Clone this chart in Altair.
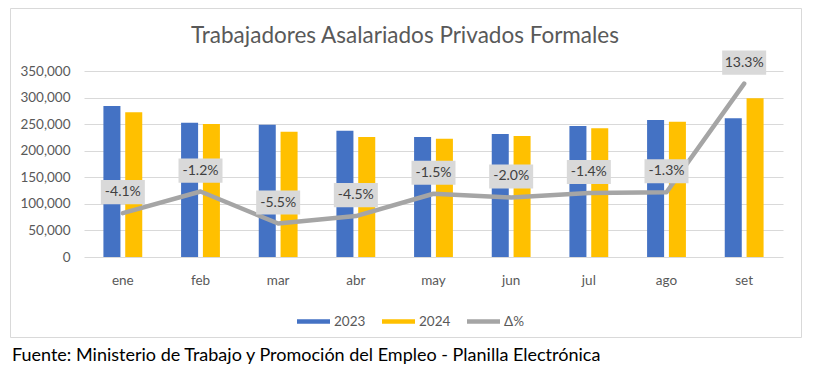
import altair as alt
import pandas as pd

months = ["ene", "feb", "mar", "abr", "may", "jun", "jul", "ago", "set"]
v2023 = [284000, 252500, 249000, 237500, 226000, 231500, 246500, 258000, 261000]
v2024 = [272500, 250500, 235500, 226000, 222500, 227500, 242500, 254500, 298500]
delta = [-4.1, -1.2, -5.5, -4.5, -1.5, -2.0, -1.4, -1.3, 13.3]
series = ["2023", "2024", "Δ%"]
colors = ["#4472C4", "#FFC000", "#A5A5A5"]
y_ticks = [0, 50000, 100000, 150000, 200000, 250000, 300000, 350000]
title_text = "Trabajadores Asalariados Privados Formales"
source_text = "Fuente: Ministerio de Trabajo y Promoción del Empleo - Planilla Electrónica"

FONT = "Lato"
W, H = 699, 186

bars_df = pd.DataFrame(
    [{"mes": m, "serie": "2023", "valor": a} for m, a in zip(months, v2023)]
    + [{"mes": m, "serie": "2024", "valor": b} for m, b in zip(months, v2024)]
)
line_df = pd.DataFrame({"mes": months, "delta": delta, "serie": "Δ%"})

x_scale = alt.Scale(domain=months, paddingInner=0.5, paddingOuter=0.25)
color_scale = alt.Scale(domain=series, range=colors)
pct_scale = alt.Scale(domain=[-10, 15], nice=False, zero=False)

bars = alt.Chart(bars_df).mark_bar().encode(
    x=alt.X("mes:N", scale=x_scale, sort=months,
            axis=alt.Axis(title=None, labelAngle=0, ticks=False, domain=False,
                          labelPadding=16, labelFontSize=13.5, labelColor="#595959",
                          labelFont=FONT, grid=False)),
    xOffset=alt.XOffset("serie:N", scale=alt.Scale(domain=["2023", "2024"], paddingInner=0.22)),
    y=alt.Y("valor:Q", scale=alt.Scale(domain=[0, 350000], nice=False),
            axis=alt.Axis(title=None, values=y_ticks, format=",.0f", ticks=False, domain=False,
                          labelFontSize=13.5, labelColor="#595959", labelFont=FONT,
                          labelPadding=14, gridColor="#D9D9D9", gridWidth=1)),
    color=alt.Color("serie:N", scale=color_scale,
                    legend=alt.Legend(title=None, orient="none", direction="horizontal",
                                      legendX=213, legendY=234,
                                      symbolType="M-1,-0.14L1,-0.14L1,0.14L-1,0.14Z",
                                      symbolSize=1089, symbolStrokeWidth=0,
                                      labelFontSize=13.5, labelColor="#595959", labelFont=FONT,
                                      columnPadding=16, labelOffset=4)),
)

line = alt.Chart(line_df).mark_line(strokeWidth=4.5, strokeCap="round", strokeJoin="round").encode(
    x=alt.X("mes:N", scale=x_scale, sort=months),
    y=alt.Y("delta:Q", scale=pct_scale, axis=None),
    color=alt.Color("serie:N", scale=color_scale),
)

boxes = alt.Chart(line_df).mark_point(
    shape="M-1,-0.55L1,-0.55L1,0.55L-1,0.55Z", size=1936, filled=True,
    fill="#D9D9D9", opacity=1, strokeWidth=0, yOffset=-21
).encode(
    x=alt.X("mes:N", scale=x_scale, sort=months),
    y=alt.Y("delta:Q", scale=pct_scale, axis=None),
)

labels = alt.Chart(line_df).transform_calculate(
    lab="(datum.delta < 0 ? '-' : '') + format(abs(datum.delta), '.1f') + '%'"
).mark_text(fontSize=14, color="#404040", font=FONT, yOffset=-21, baseline="middle").encode(
    x=alt.X("mes:N", scale=x_scale, sort=months),
    y=alt.Y("delta:Q", scale=pct_scale, axis=None),
    text="lab:N",
)

border = alt.Chart(pd.DataFrame({"a": [0]})).mark_rect(
    fill=None, stroke="#D9D9D9", strokeWidth=1
).encode(
    x=alt.value(-73.5), x2=alt.value(717.5), y=alt.value(-62.5), y2=alt.value(266.5)
)

title = alt.Chart(pd.DataFrame({"t": [title_text]})).mark_text(
    fontSize=22.5, color="#595959", font=FONT, baseline="middle", align="center"
).encode(x=alt.value(321), y=alt.value(-35), text="t:N")

source = alt.Chart(pd.DataFrame({"t": [source_text]})).mark_text(
    fontSize=18, color="#000000", font=FONT, baseline="middle", align="left"
).encode(x=alt.value(-72), y=alt.value(285), text="t:N")

chart = alt.layer(border, bars, line, boxes, labels, title, source).resolve_scale(
    y="independent"
).properties(
    width=W, height=H,
    autosize=alt.AutoSizeParams(type="none"),
    padding={"left": 76, "top": 63, "right": 34, "bottom": 112},
    background="white",
).configure_view(stroke=None)

chart.save("out.html", embed_options={"renderer": "svg", "actions": False})
